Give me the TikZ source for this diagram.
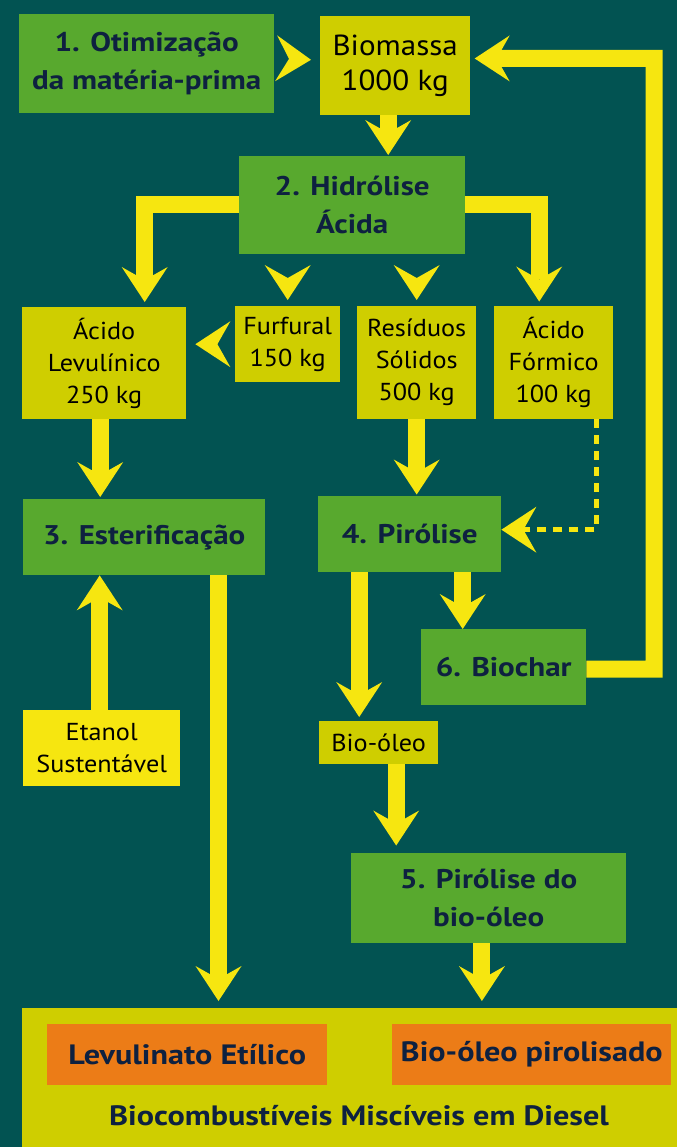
\documentclass[tikz,border=0pt]{standalone}
\usepackage{fontspec}
\setmainfont{PT Sans}[FakeStretch=1.07]
\newfontfamily\widebold{PT Sans}[FakeStretch=1.15]
\usetikzlibrary{arrows.meta,calc}
\definecolor{bg}{HTML}{025352}
\definecolor{grn}{HTML}{58A92E}
\definecolor{olv}{HTML}{CFCE00}
\definecolor{ylw}{HTML}{F6E610}
\definecolor{org}{HTML}{EC7C17}
\definecolor{navy}{HTML}{0E2140}
\tikzset{
  base/.style={anchor=north west, inner sep=0pt, align=center},
  gbox/.style={base, fill=grn, text=navy, font=\widebold\bfseries\fontsize{27}{38}\selectfont},
  obox/.style={base, fill=olv, text=black, font=\fontsize{24.5}{32}\selectfont},
  ybox/.style={base, fill=ylw, text=black, font=\fontsize{24.5}{32}\selectfont},
  rbox/.style={base, fill=org, text=navy, font=\widebold\bfseries\fontsize{28}{34}\selectfont},
  arr/.style={draw=ylw, line width=17pt, line join=miter,
    -{Stealth[length=35pt,width=46pt,inset=13pt,line width=0pt]}},
  chev/.style={arr, draw opacity=0},
  dotarr/.style={draw=ylw, line width=5pt, dash pattern=on 9pt off 7pt,
    -{Stealth[length=35pt,width=46pt,inset=13pt,line width=0pt]}}
}
\begin{document}
\begin{tikzpicture}[x=1pt,y=-1pt]
\fill[bg] (0,0) rectangle (677,1147);
\useasboundingbox (0,0) rectangle (677,1147);

% nodes
\node[gbox, minimum width=255, minimum height=99] (opt) at (19,14) {1. Otimização\\da matéria-prima};
\node[obox, minimum width=150, minimum height=99, font=\fontsize{29}{34.7}\selectfont] (bio) at (320,16) {Biomassa\\1000 kg};
\node[gbox, minimum width=226, minimum height=98] (hid) at (239,156) {2. Hidrólise\\Ácida};
\node[obox, minimum width=164, minimum height=112] (lev) at (22,307) {Ácido\\Levulínico\\250 kg};
\node[obox, minimum width=105, minimum height=76] (fur) at (235,306) {Furfural\\150 kg};
\node[obox, minimum width=119, minimum height=113] (res) at (357,306) {Resíduos\\Sólidos\\500 kg};
\node[obox, minimum width=119, minimum height=113] (for) at (494,306) {Ácido\\Fórmico\\100 kg};
\node[gbox, minimum width=242, minimum height=76] (est) at (23,499) {3. Esterificação};
\node[gbox, minimum width=183, minimum height=76] (pir) at (318,496) {4. Pirólise};
\node[gbox, minimum width=165, minimum height=76] (bch) at (421,629) {6. Biochar};
\node[obox, minimum width=119, minimum height=43] (bol) at (319,721) {Bio-óleo};
\node[ybox, minimum width=157, minimum height=76] (eta) at (23,710) {Etanol\\Sustentável};
\node[gbox, minimum width=275, minimum height=90] (p5) at (351,853) {5. Pirólise do\\bio-óleo};
\node[base, fill=olv, minimum width=655, minimum height=139] (fin) at (22,1008) {};
\node[rbox, minimum width=280, minimum height=61] (lve) at (47,1024) {Levulinato Etílico};
\node[rbox, minimum width=279, minimum height=61] (bop) at (392,1024) {Bio-óleo pirolisado};
\node[anchor=base, inner sep=0pt, text=navy, font=\widebold\bfseries\fontsize{28}{34}\selectfont] (bcm) at (359,1125.7) {Biocombustíveis Miscíveis em Diesel};

% connectors
\draw[chev, shorten >=9pt] ([yshift=5.5pt]opt.east) -- ([yshift=5.5pt]bio.west);
\draw[arr, shorten >=1pt] ([xshift=-7pt]bio.south) -- ([xshift=-7pt]bio.south |- hid.north);
\draw[arr, shorten >=5pt] ([yshift=0.5pt]hid.west) -| ([xshift=40.5pt]lev.north);
\draw[arr, shorten >=4.5pt] ([yshift=0.5pt]hid.east) -| ([xshift=-14.5pt]for.north);
\draw[chev, shorten >=6pt] (fur.north |- hid.south) -- (fur.north);
\draw[chev, shorten >=6pt] (res.north |- hid.south) -- (res.north);
\draw[chev, shorten >=9pt] (fur.west) -- (fur.west -| lev.east);
\draw[arr, shorten >=2pt] ([xshift=-4pt]lev.south) -- ([xshift=-4pt]lev.south |- est.north);
\draw[arr, shorten >=1.5pt] (res.south) -- (res.south |- pir.north);
\draw[dotarr] ([xshift=42.3pt]for.south) |- ([yshift=4.5pt]pir.east);
\draw[arr, shorten >=4pt] ([xshift=-50.5pt]pir.south) -- ([xshift=-50.5pt]pir.south |- bol.north);
\draw[arr] ([xshift=53pt]pir.south) -- ([xshift=53pt]pir.south |- bch.north);
\coordinate (rc) at (654,58.3);
\draw[arr, shorten >=4.3pt] ([yshift=-2pt]bch.east) -| (rc) -- ([yshift=7.2pt]bio.east);
\draw[arr] ([xshift=-2pt]eta.north) -- ([xshift=-2pt]eta.north |- est.south);
\draw[arr, shorten >=7pt] ([xshift=74.3pt]est.south) -- ([xshift=74.3pt]est.south |- fin.north);
\draw[arr, shorten >=7.5pt] ([xshift=17.5pt]bol.south) -- ([xshift=17.5pt]bol.south |- p5.north);
\draw[arr, shorten >=7pt] ([xshift=-6.8pt]p5.south) -- ([xshift=-6.8pt]p5.south |- fin.north);
\end{tikzpicture}
\end{document}
